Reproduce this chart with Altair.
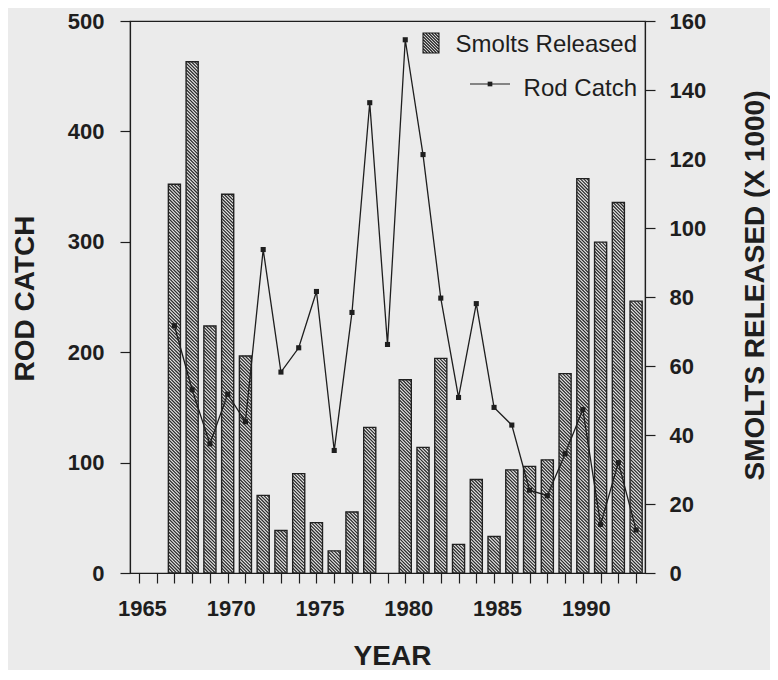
import altair as alt
import pandas as pd

# ---------------- data ----------------
years = list(range(1967, 1994))
rod_catch = [224, 166, 117, 162, 137, 293, 182, 204, 255, 111, 236, 426, 207,
             483, 379, 249, 159, 244, 150, 134, 75, 70, 108, 148, 44, 100, 39]

smolt_years = [1967, 1968, 1969, 1970, 1971, 1972, 1973, 1974, 1975, 1976, 1977, 1978,
               1980, 1981, 1982, 1983, 1984, 1985, 1986, 1987, 1988, 1989, 1990, 1991, 1992, 1993]
smolts = [112.7, 148.2, 71.6, 109.8, 62.9, 22.5, 12.3, 28.8, 14.6, 6.4, 17.7, 42.2,
          56.0, 36.4, 62.2, 8.3, 27.1, 10.6, 29.9, 30.9, 32.8, 57.8, 114.3, 95.9, 107.4, 78.8]

x_ticks = list(range(1965, 1994))
rod_ticks = [0, 100, 200, 300, 400, 500]
smolt_ticks = [0, 20, 40, 60, 80, 100, 120, 140, 160]

# ---------------- layout ----------------
W, H = 515, 552
X_DOMAIN = [1964.5, 1993.5]
ROD_DOMAIN = [0, 500]
SMOLT_DOMAIN = [0, 160]
BAR_HALF = 0.34
FONT = "Liberation Sans"
INK = "#1e1e1e"
BG = "#ebebeb"

line_df = pd.DataFrame({"year": years, "rod": rod_catch})
bars_df = pd.DataFrame({"year": smolt_years, "smolts": smolts})
bars_df["x0"] = bars_df["year"] - BAR_HALF
bars_df["x1"] = bars_df["year"] + BAR_HALF

# hatch segments ("\\" direction) built from the bar values
ppx = W / (X_DOMAIN[1] - X_DOMAIN[0])
ppy = H / (SMOLT_DOMAIN[1] - SMOLT_DOMAIN[0])
step = 3.3
rows = []
for yr, v in zip(smolt_years, smolts):
    w = 2 * BAR_HALF * ppx
    h = v * ppy
    k = step / 2
    while k < w + h:
        xa = max(0.0, k - h)
        xb = min(w, k)
        rows.append({
            "xa": yr - BAR_HALF + xa / ppx, "xb": yr - BAR_HALF + xb / ppx,
            "ya": (k - xa) / ppy, "yb": (k - xb) / ppy,
        })
        k += step
hatch_df = pd.DataFrame(rows)

# ---------------- axes ----------------
x_scale = alt.Scale(domain=X_DOMAIN, nice=False, zero=False)
x_axis = alt.Axis(
    values=x_ticks,
    labelExpr="datum.value % 5 == 0 ? toString(datum.value) : ''",
    labelOverlap=False, labelFlush=False, grid=False,
    tickSize=10, tickColor=INK, domainColor=INK, tickWidth=1.2, domainWidth=1.2,
    labelFont=FONT, labelFontSize=22, labelFontWeight="bold", labelColor=INK,
    labelPadding=15, labelOffset=3,
    title="YEAR", titleFont=FONT, titleFontSize=28, titleFontWeight="bold", titleColor=INK,
    titleX=262, titleY=91, titleAlign="center", titleBaseline="alphabetic",
)
rod_axis = alt.Axis(
    orient="left", values=rod_ticks, grid=False,
    tickSize=10, tickColor=INK, domainColor=INK, tickWidth=1.2, domainWidth=1.2,
    labelFont=FONT, labelFontSize=22, labelFontWeight="bold", labelColor=INK, labelPadding=16,
    title="ROD CATCH", titleFont=FONT, titleFontSize=28, titleFontWeight="bold", titleColor=INK,
    titleAngle=270, titleX=-97, titleY=277, titleAlign="center", titleBaseline="alphabetic",
)
smolt_axis = alt.Axis(
    orient="right", values=smolt_ticks, grid=False,
    tickSize=10, tickColor=INK, domainColor=INK, tickWidth=1.2, domainWidth=1.2,
    labelFont=FONT, labelFontSize=22, labelFontWeight="bold", labelColor=INK, labelPadding=14,
    title="SMOLTS RELEASED (X 1000)", titleFont=FONT, titleFontSize=28, titleFontWeight="bold",
    titleColor=INK, titleAngle=270, titleX=118, titleY=264, titleAlign="center",
    titleBaseline="alphabetic",
)
smolt_scale = alt.Scale(domain=SMOLT_DOMAIN, nice=False)

# ---------------- bars (right axis) ----------------
bars = alt.Chart(bars_df).mark_bar(fill=BG, stroke=INK, strokeWidth=1.4).encode(
    x=alt.X("x0:Q", scale=x_scale, axis=x_axis),
    x2="x1:Q",
    y=alt.Y("smolts:Q", scale=smolt_scale, axis=smolt_axis),
    y2=alt.datum(0),
)
hatch = alt.Chart(hatch_df).mark_rule(color="#2a2a2a", strokeWidth=1.25).encode(
    x=alt.X("xa:Q", scale=x_scale, axis=x_axis),
    x2="xb:Q",
    y=alt.Y("ya:Q", scale=smolt_scale, axis=smolt_axis),
    y2="yb:Q",
)
bar_layer = alt.layer(bars, hatch)

# ---------------- rod catch line (left axis) ----------------
line = alt.Chart(line_df).mark_line(
    color=INK, strokeWidth=1.3,
    point=alt.OverlayMarkDef(shape="square", size=26, filled=True, color=INK),
).encode(
    x=alt.X("year:Q", scale=x_scale, axis=x_axis),
    y=alt.Y("rod:Q", scale=alt.Scale(domain=ROD_DOMAIN, nice=False), axis=rod_axis),
)

# ---------------- legend ----------------
segs = []
c = -1.65
while c < 1.8:
    xa = max(-0.8, -1 - c)
    xb = min(0.8, 1 - c)
    if xa < xb:
        segs.append(f"M{xa:.3f},{xa + c:.3f}L{xb:.3f},{xb + c:.3f}")
    c += 0.3
hatch_path = "M-0.8,-1L0.8,-1L0.8,1L-0.8,1Z" + "".join(segs)

one = pd.DataFrame({"a": [0]})
leg_sym = alt.Chart(one).mark_point(
    shape=hatch_path, size=400, filled=False, stroke=INK, strokeWidth=1.1, opacity=1
).encode(x=alt.value(301), y=alt.value(22))
leg_txt1 = alt.Chart(one).mark_text(
    align="right", baseline="alphabetic", font=FONT, fontSize=24, color=INK
).encode(x=alt.value(507), y=alt.value(31), text=alt.value("Smolts Released"))
leg_line = alt.Chart(one).mark_rule(color=INK, strokeWidth=1.2).encode(
    x=alt.value(340), x2=alt.value(380), y=alt.value(63))
leg_dot = alt.Chart(one).mark_point(
    shape="square", size=22, filled=True, color=INK, opacity=1
).encode(x=alt.value(360), y=alt.value(63))
leg_txt2 = alt.Chart(one).mark_text(
    align="right", baseline="alphabetic", font=FONT, fontSize=24, color=INK
).encode(x=alt.value(507), y=alt.value(75), text=alt.value("Rod Catch"))

chart = alt.layer(
    bar_layer, line, leg_sym, leg_txt1, leg_line, leg_dot, leg_txt2
).resolve_scale(y="independent").properties(
    width=W, height=H,
    autosize=alt.AutoSizeParams(type="none"),
    padding={"left": 122, "top": 13, "right": 125, "bottom": 97},
    background=BG,
).configure_view(stroke=INK, strokeWidth=1.2)

chart.save("out.html", embed_options={"renderer": "svg", "actions": False})
